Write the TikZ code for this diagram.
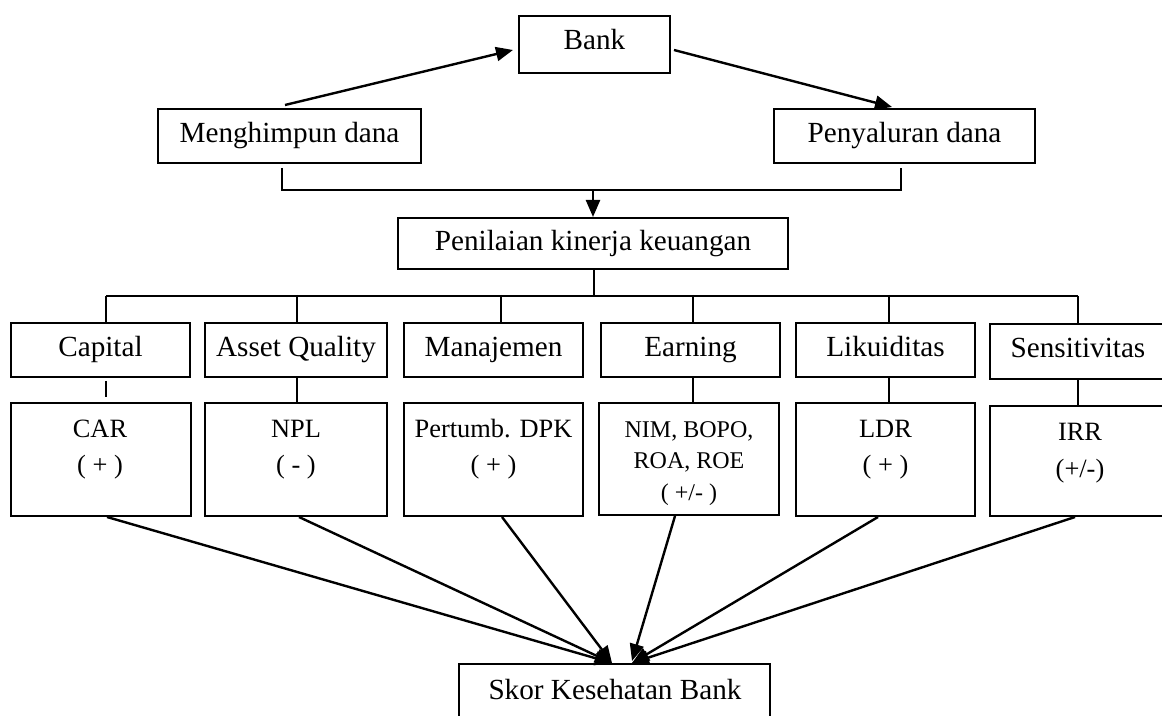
\documentclass[tikz,border=0pt]{standalone}
\usepackage{fontspec}
\setmainfont{Liberation Serif}
\usetikzlibrary{arrows.meta,calc}
\begin{document}
\begin{tikzpicture}[x=0.5pt,y=-0.5pt,
  box/.style={draw,line width=1pt,inner sep=0pt,font=\fontsize{14.6}{17}\selectfont,text height=0.8em,text depth=0.18em},
  lowbox/.style={draw,line width=1pt,inner sep=0pt},
  lowtxt/.style={anchor=north,inner sep=0pt,align=center,font=\fontsize{13.2}{18}\selectfont},
  conn/.style={line width=1pt},
  arr/.style={line width=1.2pt,-{Triangle[length=8.5pt,width=7pt]}}
]
\clip (0,0) rectangle (1162,716);
\fill[white] (0,0) rectangle (1162,716);
% top part
\node[box,minimum width=75.5pt,minimum height=28.5pt,text height=0.72em] (bank) at (594.5,44.5) {Bank};
\node[box,minimum width=131.5pt,minimum height=27pt] (mh) at (289.5,136) {Menghimpun dana};
\node[box,minimum width=130.5pt,minimum height=27pt] (py) at (904.5,136) {Penyaluran dana};
\node[box,minimum width=195pt,minimum height=25.5pt,text height=0.9em] (pk) at (593,243.5) {Penilaian kinerja keuangan};
% second row
\node[box,minimum width=89.5pt,minimum height=27pt] (cap) at (100.5,350) {Capital};
\node[box,minimum width=91pt,minimum height=27pt] (aq) at (296,350) {Asset Quality};
\node[box,minimum width=89.5pt,minimum height=27pt] (man) at (493.5,350) {Manajemen};
\node[box,minimum width=89.5pt,minimum height=27pt] (ear) at (690.5,350) {Earning};
\node[box,minimum width=89.5pt,minimum height=27pt] (liq) at (885.5,350) {Likuiditas};
\node[box,minimum width=88pt,minimum height=27.5pt] (sen) at (1078,351.5) {Sensitivitas};
% third row
\node[lowbox,minimum width=90pt,minimum height=56.5pt] (car) at (101,459.5) {};
\node[lowbox,minimum width=91pt,minimum height=56.5pt] (npl) at (296,459.5) {};
\node[lowbox,minimum width=89.5pt,minimum height=56.5pt] (dpk) at (493.5,459.5) {};
\node[lowbox,minimum width=90pt,minimum height=56pt] (ern) at (689,459) {};
\node[lowbox,minimum width=89.5pt,minimum height=56.5pt] (ldr) at (885.5,459.5) {};
\node[lowbox,minimum width=88pt,minimum height=55pt] (irr) at (1078,461) {};
\node[lowtxt] (cart) at (100,420) {CAR\\( + )};
\node[lowtxt] (nplt) at (296,420) {NPL\\( - )};
\node[lowtxt] (dpkt) at (493.5,419) {Pertumb. DPK\\( + )};
\node[lowtxt,font=\fontsize{12}{15.75}\selectfont] (ernt) at (689,421) {NIM, BOPO,\\ROA, ROE\\( +/- )};
\node[lowtxt] (ldrt) at (885.5,420) {LDR\\( + )};
\node[lowtxt,font=\fontsize{13.2}{18.5}\selectfont] (irrt) at (1080,422.5) {IRR\\(+/-)};
% bottom
\node[box,minimum width=155.5pt,minimum height=30pt] (skor) at (614.5,694) {};
\node[inner sep=0pt,font=\fontsize{14.6}{17}\selectfont,anchor=base] (skort) at (615,699) {Skor Kesehatan Bank};
% top arrows
\draw[arr] ($(mh.north)+(-4.5,-3)$) -- ($(bank.west)+(-5,5.5)$);
\draw[arr] ($(bank.east)+(3,5.5)$) -- ($(py.north)+(-12.5,-1)$);
% bracket
\coordinate (bl) at (282,190);
\coordinate (br) at (901,190);
\coordinate (bm) at (593,190);
\draw[conn] ($(mh.south)+(-7.5,4)$) -- (bl) -- (br) -- ($(py.south)+(-3.5,4)$);
\draw[arr] (bm) -- (pk.north);
% distribution line
\coordinate (hl) at (106,296);
\coordinate (hr) at (1078,296);
\draw[conn] (hl) -- (hr);
\draw[conn] ($(pk.south)+(1,0)$) -- ($(pk.south)+(1,27)$);
\draw[conn] (hl) -- ($(cap.north)+(5.5,0)$);
\draw[conn] ($(aq.north)+(1,-27)$) -- ($(aq.north)+(1,0)$);
\draw[conn] ($(man.north)+(7.5,-27)$) -- ($(man.north)+(7.5,0)$);
\draw[conn] ($(ear.north)+(2.5,-27)$) -- ($(ear.north)+(2.5,0)$);
\draw[conn] ($(liq.north)+(3.5,-27)$) -- ($(liq.north)+(3.5,0)$);
\draw[conn] (hr) -- (sen.north);
% down connectors
\draw[conn] ($(cap.south)+(5.5,3)$) -- ($(car.north)+(5,-5)$);
\draw[conn] ($(aq.south)+(1,0)$) -- ($(npl.north)+(1,0)$);
\draw[conn] ($(ear.south)+(2.5,0)$) -- ($(ern.north)+(4,0)$);
\draw[conn] ($(liq.south)+(3.5,0)$) -- ($(ldr.north)+(3.5,0)$);
\draw[conn] (sen.south) -- (irr.north);
% arrows to score
\draw[arr] ($(car.south)+(6,0)$) -- ($(skor.north)+(-2.5,0)$);
\draw[arr] ($(npl.south)+(3,0)$) -- ($(skor.north)+(-2.5,0)$);
\draw[arr] ($(dpk.south)+(8.5,0)$) -- ($(skor.north)+(-2.5,0)$);
\draw[arr] ($(ern.south)+(-14,0)$) -- ($(skor.north)+(17.5,-2)$);
\draw[arr] ($(ldr.south)+(-7.5,0)$) -- ($(skor.north)+(17.5,0)$);
\draw[arr] ($(irr.south)+(-3,0)$) -- ($(skor.north)+(17.5,0)$);
\end{tikzpicture}
\end{document}
